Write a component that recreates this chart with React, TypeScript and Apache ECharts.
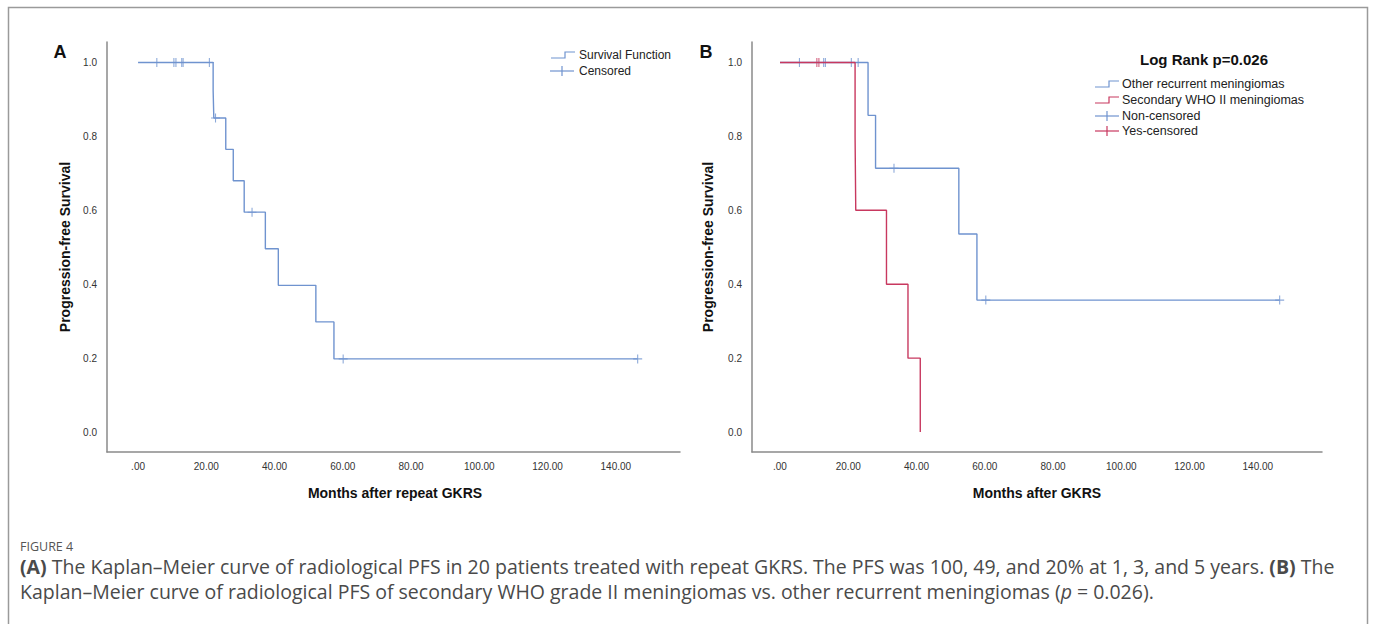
import React, { useEffect, useRef } from "react";
import * as echarts from "echarts";

// ---------- data ----------
const xTicks = [0, 20, 40, 60, 80, 100, 120, 140];
const yTicks = [0, 0.2, 0.4, 0.6, 0.8, 1.0];

// Panel A: overall KM
const aTimes = [0, 22.0, 22.2, 25.7, 27.9, 31.1, 37.3, 41.1, 52.1, 57.4, 146.4];
const aSurv = [1, 0.925, 0.85, 0.765, 0.68, 0.595, 0.496, 0.397, 0.298, 0.198, 0.198];
const aCensor = [5.5, 10.5, 11.1, 12.8, 13.2, 20.9, 22.7, 33.4, 60.1, 146.4];

// Panel B: other recurrent meningiomas
const otherTimes = [0, 25.8, 28.0, 52.4, 57.7, 146.4];
const otherSurv = [1, 0.857, 0.714, 0.536, 0.357, 0.357];
const otherCensor = [5.7, 12.8, 13.3, 20.9, 22.9, 33.4, 60.3, 146.4];

// Panel B: secondary WHO II meningiomas
const secTimes = [0, 22.0, 22.2, 31.2, 37.5, 41.1];
const secSurv = [1, 0.8, 0.6, 0.4, 0.2, 0.0];
const secCensor = [10.8, 11.4];

const BLUE = "#6f93cf";
const RED = "#c8385f";
const AXIS = "#8a8a8a";

function survAt(times: number[], surv: number[], t: number) {
  let s = surv[0];
  for (let i = 0; i < times.length; i++) if (times[i] <= t) s = surv[i];
  return s;
}
const stepPts = (times: number[], surv: number[]) => times.map((t, i) => [t, surv[i]]);
const censorPts = (c: number[], times: number[], surv: number[]) => c.map((t) => [t, survAt(times, surv, t)]);

const CROSS = "path://M4.4,0 h1.2 v4.4 h4.4 v1.2 h-4.4 v4.4 h-1.2 v-4.4 h-4.4 v-1.2 h4.4 z";

export default function App() {
  const ref = useRef<HTMLDivElement>(null);
  useEffect(() => {
    const chart = echarts.init(ref.current!, null, { renderer: "svg" });
    const xAxisBase = (gridIndex: number, min: number) => ({
      type: "value",
      gridIndex,
      min,
      max: 158.8,
      splitLine: { show: false },
      axisLine: { onZero: false, lineStyle: { color: AXIS, width: 1.5 } },
      axisTick: { show: false },
      axisLabel: {
        customValues: xTicks,
        formatter: (v: number) => (v === 0 ? ".00" : v.toFixed(2)),
        color: "#333",
        fontSize: 10,
        fontFamily: "Liberation Sans, Arial, sans-serif",
        margin: 9,
      },
    });
    const yAxisBase = (gridIndex: number) => ({
      type: "value",
      gridIndex,
      min: -0.054,
      max: 1.0555,
      splitLine: { show: false },
      axisLine: { show: true, onZero: false, lineStyle: { color: AXIS, width: 1.5 } },
      axisTick: { show: false },
      axisLabel: {
        customValues: yTicks,
        formatter: (v: number) => v.toFixed(1),
        color: "#333",
        fontSize: 10,
        fontFamily: "Liberation Sans, Arial, sans-serif",
        margin: 10,
      },
    });
    const lineS = (xi: number, data: number[][], color: string) => ({
      type: "line",
      xAxisIndex: xi,
      yAxisIndex: xi,
      data,
      step: "end",
      showSymbol: false,
      symbol: "none",
      lineStyle: { color, width: 1.4 },
      silent: true,
    });
    const censS = (xi: number, data: number[][], color: string) => ({
      type: "scatter",
      xAxisIndex: xi,
      yAxisIndex: xi,
      data,
      symbol: CROSS,
      symbolSize: 9,
      itemStyle: { color },
      silent: true,
    });
    const font = "Liberation Sans, Arial, sans-serif";
    const tx = (x: number, y: number, text: string, size: number, extra: any = {}) => ({
      type: "text",
      x,
      y,
      style: { text, fontSize: size, fontFamily: font, fill: "#111", ...extra },
    });
    const stepIcon = (x: number, y: number, color: string) => ({
      type: "polyline",
      shape: { points: [[x, y + 3], [x + 14, y + 3], [x + 14, y - 3], [x + 24, y - 3]] },
      style: { stroke: color, lineWidth: 1.2, fill: "none" },
    });
    const crossIcon = (x: number, y: number, color: string) => ({
      type: "group",
      children: [
        { type: "line", shape: { x1: x, y1: y, x2: x + 24, y2: y }, style: { stroke: color, lineWidth: 1.2 } },
        { type: "line", shape: { x1: x + 12, y1: y - 5, x2: x + 12, y2: y + 5 }, style: { stroke: color, lineWidth: 1.2 } },
      ],
    });
    const capFont = "Open Sans, sans-serif";
    const capSize = 19.5;
    const capColor = "#4a4a4a";

    chart.setOption({
      animation: false,
      grid: [
        { left: 107, top: 42, width: 573, height: 410 },
        { left: 752, top: 42, width: 570, height: 410 },
      ],
      xAxis: [xAxisBase(0, -9.1), xAxisBase(1, -8.2)],
      yAxis: [yAxisBase(0), yAxisBase(1)],
      series: [
        lineS(0, stepPts(aTimes, aSurv), BLUE),
        censS(0, censorPts(aCensor, aTimes, aSurv), BLUE),
        lineS(1, stepPts(otherTimes, otherSurv), BLUE),
        lineS(1, stepPts(secTimes, secSurv), RED),
        censS(1, censorPts(otherCensor, otherTimes, otherSurv), BLUE),
        censS(1, censorPts(secCensor, secTimes, secSurv), RED),
      ],
      graphic: [
        {
          type: "rect",
          shape: { x: 8.5, y: 7.5, width: 1359, height: 700 },
          style: { fill: "none", stroke: "#9a9a9a", lineWidth: 1.5 },
          silent: true,
        },
        tx(60, 52, "A", 18, { fontWeight: "bold", align: "center", verticalAlign: "middle" }),
        tx(706, 52, "B", 18, { fontWeight: "bold", align: "center", verticalAlign: "middle" }),
        {
          type: "text",
          x: 65,
          y: 247,
          rotation: Math.PI / 2,
          style: { text: "Progression-free Survival", fontSize: 14, fontWeight: "bold", fontFamily: font, fill: "#111", align: "center", verticalAlign: "middle" },
        },
        {
          type: "text",
          x: 708,
          y: 247,
          rotation: Math.PI / 2,
          style: { text: "Progression-free Survival", fontSize: 14, fontWeight: "bold", fontFamily: font, fill: "#111", align: "center", verticalAlign: "middle" },
        },
        tx(395, 493, "Months after repeat GKRS", 14, { fontWeight: "bold", align: "center", verticalAlign: "middle" }),
        tx(1037, 493, "Months after GKRS", 14, { fontWeight: "bold", align: "center", verticalAlign: "middle" }),
        // legend A
        stepIcon(551, 55, BLUE),
        tx(579, 55, "Survival Function", 12, { verticalAlign: "middle", fill: "#222" }),
        crossIcon(550, 71, BLUE),
        tx(579, 71, "Censored", 12, { verticalAlign: "middle", fill: "#222" }),
        // legend B
        tx(1204, 59, "Log Rank p=0.026", 15, { fontWeight: "bold", align: "center", verticalAlign: "middle" }),
        stepIcon(1095, 84, BLUE),
        tx(1122, 84, "Other recurrent meningiomas", 12.5, { verticalAlign: "middle", fill: "#222" }),
        stepIcon(1095, 100, RED),
        tx(1122, 100, "Secondary WHO II meningiomas", 12.5, { verticalAlign: "middle", fill: "#222" }),
        crossIcon(1095, 116, BLUE),
        tx(1122, 116, "Non-censored", 12.5, { verticalAlign: "middle", fill: "#222" }),
        crossIcon(1095, 131, RED),
        tx(1122, 131, "Yes-censored", 12.5, { verticalAlign: "middle", fill: "#222" }),
        // caption
        {
          type: "text",
          x: 20,
          y: 546,
          style: { text: "FIGURE 4", fontSize: 12.5, lineHeight: 13, fontFamily: capFont, fill: "#555", verticalAlign: "middle" },
        },
        {
          type: "text",
          x: 20,
          y: 566,
          style: {
            text: "{b|(A)} The Kaplan–Meier curve of radiological PFS in 20 patients treated with repeat GKRS. The PFS was 100, 49, and 20% at 1, 3, and 5 years. {b|(B)} The",
            fontSize: capSize,
            lineHeight: 20,
            fontFamily: capFont,
            fill: capColor,
            verticalAlign: "middle",
            rich: { b: { fontWeight: "bold", fontSize: capSize, lineHeight: 20, fontFamily: capFont, fill: capColor } },
          },
        },
        {
          type: "text",
          x: 20,
          y: 591,
          style: {
            text: "Kaplan–Meier curve of radiological PFS of secondary WHO grade II meningiomas vs. other recurrent meningiomas ({i|p} = 0.026).",
            fontSize: capSize,
            lineHeight: 20,
            fontFamily: capFont,
            fill: capColor,
            verticalAlign: "middle",
            rich: { i: { fontStyle: "italic", fontSize: capSize, lineHeight: 20, fontFamily: capFont, fill: capColor } },
          },
        },
      ],
    });
    return () => chart.dispose();
  }, []);
  return <div ref={ref} style={{ position: "absolute", left: 0, top: 0, width: 1375, height: 624, background: "#fff" }} />;
}
